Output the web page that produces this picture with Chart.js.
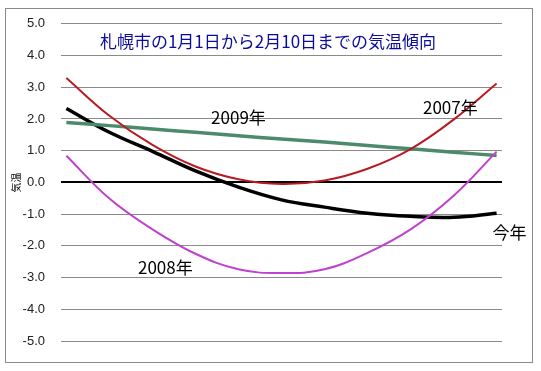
<!DOCTYPE html>
<html>
<head>
<meta charset="utf-8">
<script src="https://cdn.jsdelivr.net/npm/chart.js@4"></script>
<style>
  html, body { margin: 0; padding: 0; background: #fff; }
  #wrap { width: 541px; height: 371px; }
</style>
</head>
<body>
<div id="wrap"><canvas id="myChart" width="541" height="371"></canvas></div>
<script>
    // day of the period (1 = Jan 1, 41 = Feb 10), read every 4 days
    const days = [1, 5, 9, 13, 17, 21, 25, 29, 33, 37, 41];

    const y2007 = [3.29, 2.10, 1.18, 0.50, 0.10, -0.05, 0.06, 0.43, 1.05, 1.98, 3.12];
    const y2008 = [0.84, -0.51, -1.48, -2.25, -2.74, -2.86, -2.74, -2.22, -1.48, -0.42, 0.97];
    const y2009 = [1.89, 1.79, 1.68, 1.58, 1.47, 1.37, 1.27, 1.16, 1.06, 0.95, 0.85];
    const yThisYear = [2.33, 1.58, 0.98, 0.36, -0.15, -0.55, -0.78, -0.97, -1.07, -1.10, -0.97];

    const chartTitle = "札幌市の1月1日から2月10日までの気温傾向";
    const axisTitle = "気温";

    // series labels placed in data coordinates [day, value]
    const seriesLabels = [
        { text: "2009年", at: [17, 2.04] },
        { text: "2007年", at: [36.7, 2.36] },
        { text: "今年", at: [42.2, -1.57] },
        { text: "2008年", at: [10.2, -2.67] }
    ];

    function toPoints(values) {
        return values.map((v, i) => ({ x: days[i], y: v }));
    }

    const decorations = {
        id: "decorations",
        beforeDraw(chart) {
            const ctx = chart.ctx;
            ctx.save();
            ctx.fillStyle = "#fff";
            ctx.fillRect(0, 0, chart.width, chart.height);
            ctx.strokeStyle = "#8a8a8a";
            ctx.lineWidth = 1;
            ctx.strokeRect(5.5, 8.5, 527, 354);
            ctx.restore();
        },
        afterDraw(chart) {
            const ctx = chart.ctx;
            const xs = chart.scales.x, ys = chart.scales.y;
            ctx.save();
            ctx.textAlign = "center";
            ctx.textBaseline = "middle";
            ctx.fillStyle = "#0c0c9c";
            ctx.font = "17px 'Noto Sans CJK JP'";
            ctx.fillText(chartTitle, 268, 42);

            ctx.fillStyle = "#000";
            ctx.font = "17px 'Noto Sans CJK JP'";
            seriesLabels.forEach(l => {
                ctx.fillText(l.text, xs.getPixelForValue(l.at[0]), ys.getPixelForValue(l.at[1]));
            });

            ctx.translate(16, ys.getPixelForValue(0));
            ctx.rotate(-Math.PI / 2);
            ctx.font = "10px 'Noto Sans CJK JP'";
            ctx.fillText(axisTitle, 0, 0);
            ctx.restore();
        }
    };

    new Chart("myChart", {
        type: "line",
        data: {
            datasets: [{
                label: "2007年",
                data: toPoints(y2007),
                borderColor: "#b81c22",
                borderWidth: 2
            }, {
                label: "2008年",
                data: toPoints(y2008),
                borderColor: "#c040d0",
                borderWidth: 2
            }, {
                label: "2009年",
                data: toPoints(y2009),
                borderColor: "#4b8b6b",
                borderWidth: 3.5
            }, {
                label: "今年",
                data: toPoints(yThisYear),
                borderColor: "#000",
                borderWidth: 3.5
            }]
        },
        options: {
            responsive: false,
            animation: false,
            layout: {
                padding: { left: 0, top: 23, right: 39, bottom: 30 }
            },
            elements: {
                point: { radius: 0 },
                line: { tension: 0.4, fill: false }
            },
            plugins: {
                legend: { display: false },
                tooltip: { enabled: false }
            },
            scales: {
                x: {
                    type: "linear",
                    min: 0.5,
                    max: 41.5,
                    display: false
                },
                y: {
                    min: -5,
                    max: 5,
                    afterFit(scale) { scale.width = 61; },
                    border: { display: false },
                    grid: {
                        drawTicks: false,
                        color: c => c.tick && c.tick.value === 0 ? "#000" : "#8a8a8a",
                        lineWidth: c => c.tick && c.tick.value === 0 ? 2 : 1
                    },
                    ticks: {
                        stepSize: 1,
                        padding: 16,
                        color: "#222",
                        font: { family: "'Liberation Sans'", size: 13 },
                        callback: v => v.toFixed(1)
                    }
                }
            }
        },
        plugins: [decorations]
    });
</script>
</body>
</html>
